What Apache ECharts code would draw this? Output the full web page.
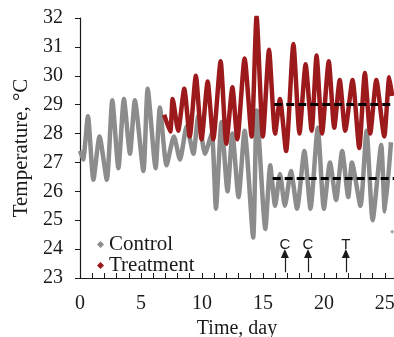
<!DOCTYPE html>
<html>
<head>
<meta charset="utf-8">
<script src="https://cdn.jsdelivr.net/npm/echarts@6/dist/echarts.min.js"></script>
<style>
  html, body { margin: 0; padding: 0; background: #fff; }
  #chart { width: 394px; height: 337px; }
</style>
</head>
<body>
<div id="chart"></div>
<script>
const SERIF = "Liberation Serif";
const GRAY = "#8c8c8c";
const RED = "#9c1a1c";
const INK = "#1a1a1a";

// Control: daily peaks and troughs
const controlDays = [0, 0.25, 0.65, 1.1, 1.6, 2.2, 2.65, 3.15, 3.6, 4.1, 4.5, 5.2, 5.55, 6.2, 6.55,
  7.1, 7.7, 8.2, 8.75, 9.3, 9.7, 10.25, 10.8, 11.15, 11.6, 12.1, 12.5, 13.0, 13.5, 14.2, 14.5,
  15.2, 15.6, 16.0, 16.4, 16.8, 17.3, 17.8, 18.4, 18.9, 19.5, 20.0, 20.5, 21.0, 21.5, 22.0, 22.3,
  23.0, 23.5, 24.0, 24.7, 25.0, 25.5];
const controlTemp = [27.4, 27.1, 28.6, 26.4, 27.9, 26.4, 29.15, 26.8, 29.2, 27.3, 29.15, 26.7, 29.55, 26.8, 28.9,
  26.9, 27.9, 27.1, 28.25, 27.3, 28.6, 27.3, 28.0, 25.4, 28.4, 26.0, 28.0, 25.8, 28.1, 24.4, 28.8,
  24.7, 26.9, 25.5, 26.6, 25.5, 26.7, 25.4, 27.4, 25.4, 28.2, 25.4, 27.0, 25.7, 27.4, 25.8, 27.0,
  25.5, 28.1, 25.0, 27.6, 25.3, 27.7];
const controlStrayDay = [25.6];
const controlStrayTemp = [24.6];

// Treatment
const treatDays = [6.9, 7.4, 7.6, 8.05, 8.55, 9.0, 9.5, 9.97, 10.47, 10.93, 11.53, 12.0, 12.5, 12.9,
  13.5, 14.07, 14.48, 15.0, 15.5, 16.0, 16.4, 16.9, 17.5, 18.0, 18.5, 19.0, 19.4, 19.85, 20.4,
  20.85, 21.3, 21.75, 22.35, 22.9, 23.36, 23.8, 24.3, 24.95, 25.36, 25.6];
const treatTemp = [28.65, 28.07, 29.2, 28.1, 29.55, 27.9, 30.0, 27.8, 29.8, 27.8, 30.5, 27.65, 29.6, 27.8,
  30.6, 27.9, 32.05, 27.9, 30.9, 28.0, 29.2, 27.4, 31.1, 28.0, 30.4, 28.1, 30.7, 28.0, 30.5,
  28.2, 29.85, 28.1, 29.85, 27.5, 30.1, 28.0, 29.85, 27.9, 29.95, 29.3];

// dashed reference levels
const refLevels = [29.0, 26.45];
const refStart = [15.93, 15.8];
const refEnd = 25.75;

// arrows: day, label
const arrowDays = [16.8, 18.7, 21.8];
const arrowLabels = ["C", "C", "T"];
const arrowFrom = 23.2;
const arrowTo = 23.85;

const pairs = (xs, ys) => xs.map((x, i) => [x, ys[i]]);

const chart = echarts.init(document.getElementById("chart"), null, { renderer: "canvas" });

const axisLabel = { color: INK, fontFamily: SERIF, fontSize: 20 };

chart.setOption({
  animation: false,
  grid: { left: 80, right: 0, top: 18, bottom: 59, outerBoundsMode: "none", containLabel: false },
  legend: {
    left: 92,
    top: 229,
    orient: "vertical",
    itemWidth: 7,
    itemHeight: 7,
    itemGap: 0,
    textStyle: { color: INK, fontFamily: SERIF, fontSize: 21 },
    data: [
      { name: "Control", icon: "diamond", itemStyle: { color: GRAY } },
      { name: "Treatment", icon: "diamond", itemStyle: { color: RED } },
    ],
  },
  xAxis: {
    type: "value",
    min: 0,
    max: 25.75,
    interval: 5,
    name: "Time, day",
    nameLocation: "middle",
    nameGap: 38,
    nameTextStyle: { color: INK, fontFamily: SERIF, fontSize: 20 },
    axisLine: { onZero: false, lineStyle: { color: INK, width: 1.2 } },
    axisTick: { inside: true, length: 5, lineStyle: { color: INK } },
    minorTick: { show: true, splitNumber: 5, length: 5, lineStyle: { color: INK } },
    axisLabel: { ...axisLabel, margin: 16, showMaxLabel: false },
    splitLine: { show: false },
  },
  yAxis: {
    type: "value",
    min: 23,
    max: 32,
    interval: 1,
    name: "Temperature, °C",
    nameLocation: "middle",
    nameGap: 48,
    nameTextStyle: { color: INK, fontFamily: SERIF, fontSize: 21 },
    axisLine: { show: true, onZero: false, lineStyle: { color: INK, width: 1.2 } },
    axisTick: { show: true, length: 5, lineStyle: { color: INK } },
    axisLabel: { ...axisLabel, margin: 17 },
    splitLine: { show: false },
  },
  series: [
    {
      name: "Control",
      type: "line",
      data: pairs(controlDays, controlTemp),
      smooth: 0.2,
      showSymbol: false,
      lineStyle: { color: GRAY, width: 4.5 },
      itemStyle: { color: GRAY },
      z: 2,
      markLine: {
        silent: true,
        symbol: ["none", "triangle"],
        symbolSize: [8, 9],
        lineStyle: { color: INK, width: 1.2, type: "solid" },
        label: {
          show: true,
          position: "end",
          distance: 1,
          formatter: "{b}",
          color: INK,
          fontFamily: "Liberation Sans",
          fontSize: 15,
        },
        data: arrowDays.map((d, i) => [
          { name: arrowLabels[i], coord: [d, arrowFrom] },
          { coord: [d, arrowTo] },
        ]),
      },
    },
    {
      name: "Control",
      type: "scatter",
      data: pairs(controlStrayDay, controlStrayTemp),
      symbol: "diamond",
      symbolSize: 4,
      itemStyle: { color: GRAY },
      z: 2,
    },
    {
      name: "Treatment",
      type: "line",
      data: pairs(treatDays, treatTemp),
      smooth: 0.2,
      showSymbol: false,
      lineStyle: { color: RED, width: 4.5 },
      itemStyle: { color: RED },
      z: 3,
      markLine: {
        silent: true,
        symbol: ["none", "none"],
        lineStyle: { color: "#000", width: 3, type: [8, 4] },
        label: { show: false },
        data: refLevels.map((v, i) => [
          { coord: [refStart[i], v] },
          { coord: [refEnd, v] },
        ]),
      },
    },
  ],
});
</script>
</body>
</html>
